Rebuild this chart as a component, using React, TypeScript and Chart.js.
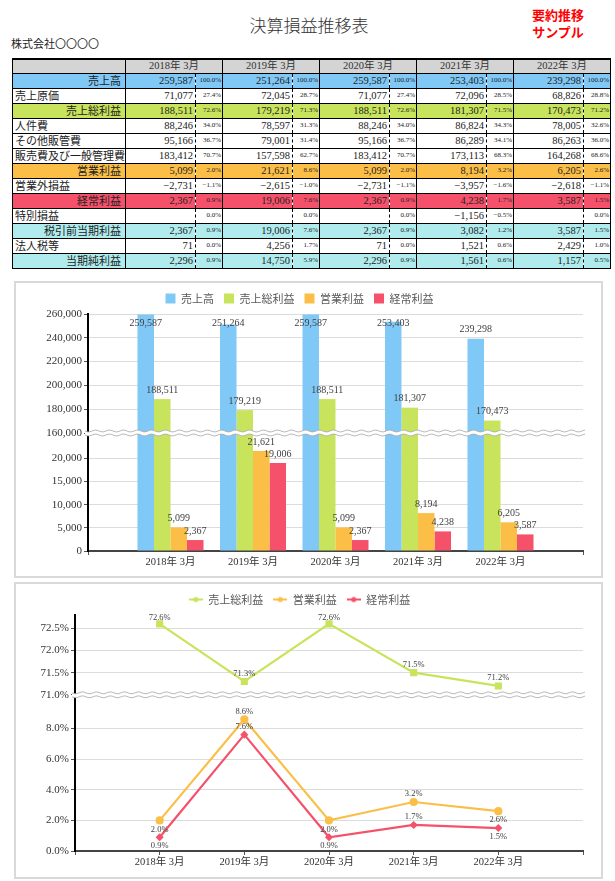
import React, { useEffect, useRef } from 'react';
import { Chart, registerables } from 'chart.js';

Chart.register(...registerables);

// ---------------- data ----------------
const years = ['2018年 3月', '2019年 3月', '2020年 3月', '2021年 3月', '2022年 3月'];

const sales = [259587, 251264, 259587, 253403, 239298];
const salesPct = [100.0, 100.0, 100.0, 100.0, 100.0];
const costOfSales = [71077, 72045, 71077, 72096, 68826];
const costOfSalesPct = [27.4, 28.7, 27.4, 28.5, 28.8];
const grossProfit = [188511, 179219, 188511, 181307, 170473];
const grossPct = [72.6, 71.3, 72.6, 71.5, 71.2];
const personnel = [88246, 78597, 88246, 86824, 78005];
const personnelPct = [34.0, 31.3, 34.0, 34.3, 32.6];
const otherSga = [95166, 79001, 95166, 86289, 86263];
const otherSgaPct = [36.7, 31.4, 36.7, 34.1, 36.0];
const sgaTotal = [183412, 157598, 183412, 173113, 164268];
const sgaTotalPct = [70.7, 62.7, 70.7, 68.3, 68.6];
const operatingProfit = [5099, 21621, 5099, 8194, 6205];
const operatingPct = [2.0, 8.6, 2.0, 3.2, 2.6];
const nonOperating = [-2731, -2615, -2731, -3957, -2618];
const nonOperatingPct = [-1.1, -1.0, -1.1, -1.6, -1.1];
const ordinaryProfit = [2367, 19006, 2367, 4238, 3587];
const ordinaryPct = [0.9, 7.6, 0.9, 1.7, 1.5];
const extraordinary: (number | null)[] = [null, null, null, -1156, null];
const extraordinaryPct = [0.0, 0.0, 0.0, -0.5, 0.0];
const pretaxProfit = [2367, 19006, 2367, 3082, 3587];
const pretaxPct = [0.9, 7.6, 0.9, 1.2, 1.5];
const incomeTax = [71, 4256, 71, 1521, 2429];
const incomeTaxPct = [0.0, 1.7, 0.0, 0.6, 1.0];
const netProfit = [2296, 14750, 2296, 1561, 1157];
const netPct = [0.9, 5.9, 0.9, 0.6, 0.5];

// axis ranges and tick values (broken axes)
const barHighMin = 160000;
const barHighMax = 260000;
const barHighTicks = [160000, 180000, 200000, 220000, 240000, 260000];
const barLowMax = 25500;
const barLowTicks = [0, 5000, 10000, 15000, 20000];

const lineHighMin = 71.0;
const lineHighMax = 72.8;
const lineHighTicks = [71.0, 71.5, 72.0, 72.5];
const lineLowMax = 10.2;
const lineLowTicks = [0, 2, 4, 6, 8];

// ---------------- styles ----------------
const NUM_FONT = '"Liberation Serif", "Noto Sans CJK JP", serif';
const JP_FONT = '"Noto Sans CJK JP", sans-serif';
const BLUE = '#80c8f6';
const GREEN = '#c8e45c';
const ORANGE = '#fbbf47';
const RED = '#f5516b';
const CYAN = '#b0ecee';

Chart.defaults.font.family = NUM_FONT;
Chart.defaults.color = '#333';

const padLabels = ['', ...years, ''];

function fmtNum(v: number | null) {
  if (v === null || v === undefined) return '';
  const s = Math.abs(v).toLocaleString('en-US');
  return v < 0 ? '−' + s : s;
}
function fmtPct(p: number) {
  const s = Math.abs(p).toFixed(1) + '%';
  return p < 0 ? '−' + s : s;
}

// ---------------- plugins ----------------
function wavePath(ctx: CanvasRenderingContext2D, x0: number, x1: number, y: number, forward: boolean) {
  if (forward) {
    for (let x = x0; x <= x1; x += 1) {
      const yy = y + Math.sin(((x - x0) / 7) * Math.PI) * 0.9;
      if (x === x0) ctx.moveTo(x, yy);
      else ctx.lineTo(x, yy);
    }
  } else {
    for (let x = x1; x >= x0; x -= 1) {
      const yy = y + Math.sin(((x - x0) / 7) * Math.PI) * 0.9;
      ctx.lineTo(x, yy);
    }
  }
}

const breakPlugin = {
  id: 'axisBreak',
  afterDatasetsDraw(chart: any) {
    const hi = chart.scales.yHigh;
    if (!hi) return;
    const ctx = chart.ctx as CanvasRenderingContext2D;
    const y = hi.bottom;
    const x0 = Math.round(chart.chartArea.left - 3);
    const x1 = Math.round(chart.chartArea.right + 2);
    ctx.save();
    ctx.beginPath();
    wavePath(ctx, x0, x1, y - 2, true);
    wavePath(ctx, x0, x1, y + 2, false);
    ctx.closePath();
    ctx.fillStyle = '#ffffff';
    ctx.fill();
    ctx.strokeStyle = '#a8a8a8';
    ctx.lineWidth = 0.8;
    ctx.beginPath();
    wavePath(ctx, x0, x1, y - 2, true);
    ctx.stroke();
    ctx.beginPath();
    wavePath(ctx, x0, x1, y + 2, true);
    ctx.stroke();
    ctx.restore();
  },
};

const barLabelPlugin = {
  id: 'barLabels',
  afterDatasetsDraw(chart: any) {
    const ctx = chart.ctx as CanvasRenderingContext2D;
    ctx.save();
    ctx.font = '10px ' + NUM_FONT;
    ctx.fillStyle = '#404040';
    ctx.textAlign = 'center';
    ctx.textBaseline = 'middle';
    chart.data.datasets.forEach((ds: any, di: number) => {
      if (!ds.labelValues) return;
      const meta = chart.getDatasetMeta(di);
      const scale = chart.scales[ds.yAxisID];
      meta.data.forEach((el: any, i: number) => {
        const y = Math.max(el.y - 9, scale.top + 9);
        ctx.fillText(fmtNum(ds.labelValues[i]), el.x, y);
      });
    });
    ctx.restore();
  },
};

const lineLabelPlugin = {
  id: 'lineLabels',
  afterDatasetsDraw(chart: any) {
    const ctx = chart.ctx as CanvasRenderingContext2D;
    ctx.save();
    ctx.font = '8.5px ' + NUM_FONT;
    ctx.fillStyle = '#404040';
    ctx.textAlign = 'center';
    ctx.textBaseline = 'middle';
    chart.data.datasets.forEach((ds: any, di: number) => {
      const meta = chart.getDatasetMeta(di);
      const scale = chart.scales[ds.yAxisID];
      meta.data.forEach((el: any, i: number) => {
        const pos = ds.labelPos ? ds.labelPos[i] : 'above';
        let y = pos === 'above' ? el.y - 8 : el.y + 9;
        if (pos === 'above') y = Math.max(y, scale.top + 3);
        ctx.fillText(fmtPct(ds.labelValues[i]), el.x, y);
      });
    });
    ctx.restore();
  },
};

function legendIcon(color: string) {
  const c = document.createElement('canvas');
  c.width = 14;
  c.height = 8;
  const g = c.getContext('2d')!;
  g.strokeStyle = color;
  g.lineWidth = 2;
  g.beginPath();
  g.moveTo(0, 4);
  g.lineTo(14, 4);
  g.stroke();
  g.fillStyle = color;
  g.beginPath();
  g.arc(7, 4, 2.6, 0, Math.PI * 2);
  g.fill();
  return c;
}

// ---------------- charts ----------------
function xScale(allTicks: boolean, height: number) {
  return {
    type: 'category',
    labels: padLabels,
    offset: false,
    grid: {
      offset: false,
      drawOnChartArea: false,
      tickLength: 4,
      lineWidth: 1,
      color: (c: any) =>
        allTicks || c.index === 0 || c.index === padLabels.length - 1 ? '#555' : 'rgba(0,0,0,0)',
    },
    border: { color: '#444', width: 2 },
    ticks: { font: { size: 10.5 }, color: '#333', padding: 1, maxRotation: 0, autoSkip: false },
    afterFit: (s: any) => {
      s.height = height;
    },
  };
}

function yScale(opts: {
  stack: string;
  weight: number;
  min: number;
  max: number;
  ticks: number[];
  width: number;
  fmt: (v: number) => string;
}) {
  return {
    type: 'linear',
    position: 'left',
    stack: opts.stack,
    stackWeight: opts.weight,
    stacked: false,
    min: opts.min,
    max: opts.max,
    grid: { color: '#dcdcdc', tickColor: '#555', tickLength: 4 },
    border: { color: '#000', width: 2 },
    ticks: {
      font: { size: 11 },
      color: '#333',
      padding: 2,
      autoSkip: false,
      callback: (v: any) => opts.fmt(Number(v)),
    },
    afterBuildTicks: (s: any) => {
      s.ticks = opts.ticks.map((value) => ({ value }));
    },
    afterFit: (s: any) => {
      s.width = opts.width;
    },
  };
}

function BarChartPanel() {
  const ref = useRef<HTMLCanvasElement>(null);
  useEffect(() => {
    const floatData = (vals: number[]) => years.map((x, i) => ({ x, y: [barHighMin, vals[i]] }));
    const lowData = (vals: number[]) => years.map((x, i) => ({ x, y: Math.min(vals[i], barLowMax) }));
    const yWidth = 72;
    const chart = new Chart(ref.current!, {
      type: 'bar',
      data: {
        datasets: [
          { label: '売上高', data: floatData(sales), yAxisID: 'yHigh', stack: 's', backgroundColor: BLUE, labelValues: sales } as any,
          { label: '売上総利益', data: floatData(grossProfit), yAxisID: 'yHigh', stack: 'g', backgroundColor: GREEN, labelValues: grossProfit } as any,
          { label: '営業利益', data: lowData(operatingProfit), yAxisID: 'yLow', stack: 'o', backgroundColor: ORANGE, labelValues: operatingProfit } as any,
          { label: '経常利益', data: lowData(ordinaryProfit), yAxisID: 'yLow', stack: 'r', backgroundColor: RED, labelValues: ordinaryProfit } as any,
          { label: '売上高', data: lowData(sales), yAxisID: 'yLow', stack: 's', backgroundColor: BLUE, hideInLegend: true } as any,
          { label: '売上総利益', data: lowData(grossProfit), yAxisID: 'yLow', stack: 'g', backgroundColor: GREEN, hideInLegend: true } as any,
        ],
      },
      options: {
        animation: false,
        responsive: false,
        maintainAspectRatio: false,
        events: [],
        layout: { padding: { top: 0, right: 18, bottom: 0, left: 0 } },
        datasets: { bar: { categoryPercentage: 0.8, barPercentage: 1.0, borderWidth: 0 } },
        plugins: {
          tooltip: { enabled: false },
          legend: {
            position: 'top',
            labels: {
              font: { size: 11, family: JP_FONT },
              color: '#595959',
              boxWidth: 10,
              boxHeight: 10,
              padding: 10,
              filter: (item: any, data: any) => !data.datasets[item.datasetIndex].hideInLegend,
            },
          },
        },
        scales: {
          x: xScale(false, 25) as any,
          yLow: yScale({ stack: 'bars', weight: 118, min: 0, max: barLowMax, ticks: barLowTicks, width: yWidth, fmt: fmtNum }) as any,
          yHigh: yScale({ stack: 'bars', weight: 119, min: barHighMin, max: barHighMax, ticks: barHighTicks, width: yWidth, fmt: fmtNum }) as any,
        },
      } as any,
      plugins: [breakPlugin, barLabelPlugin],
    });
    return () => chart.destroy();
  }, []);
  return (
    <div style={{ position: 'absolute', left: 14, top: 281, width: 589, height: 297, boxSizing: 'border-box', border: '2px solid #d9d9d9', background: '#fff' }}>
      <canvas ref={ref} width={585} height={293} style={{ display: 'block', width: 585, height: 293 }} />
    </div>
  );
}

function LineChartPanel() {
  const ref = useRef<HTMLCanvasElement>(null);
  useEffect(() => {
    const pts = (vals: number[]) => years.map((x, i) => ({ x, y: vals[i] }));
    const yWidth = 59;
    const pctFmt = (v: number) => v.toFixed(1) + '%';
    const chart = new Chart(ref.current!, {
      type: 'line',
      data: {
        datasets: [
          {
            label: '売上総利益', data: pts(grossPct), yAxisID: 'yHigh', borderColor: GREEN, backgroundColor: GREEN,
            pointBackgroundColor: GREEN, pointBorderColor: GREEN, pointStyle: 'rect', pointRadius: 3.5, borderWidth: 2.2,
            labelValues: grossPct, labelPos: ['above', 'above', 'above', 'above', 'above'],
          } as any,
          {
            label: '営業利益', data: pts(operatingPct), yAxisID: 'yLow', borderColor: ORANGE, backgroundColor: ORANGE,
            pointBackgroundColor: ORANGE, pointBorderColor: ORANGE, pointStyle: 'circle', pointRadius: 3, borderWidth: 2.2,
            labelValues: operatingPct, labelPos: ['below', 'above', 'below', 'above', 'below'],
          } as any,
          {
            label: '経常利益', data: pts(ordinaryPct), yAxisID: 'yLow', borderColor: RED, backgroundColor: RED,
            pointBackgroundColor: RED, pointBorderColor: RED, pointStyle: 'rectRot', pointRadius: 2.5, borderWidth: 2.2,
            labelValues: ordinaryPct, labelPos: ['below', 'above', 'below', 'above', 'below'],
          } as any,
        ],
      },
      options: {
        animation: false,
        responsive: false,
        maintainAspectRatio: false,
        events: [],
        layout: { padding: { top: 0, right: 18, bottom: 0, left: 0 } },
        elements: { line: { tension: 0 } },
        plugins: {
          tooltip: { enabled: false },
          legend: {
            position: 'top',
            labels: {
              font: { size: 11, family: JP_FONT },
              color: '#595959',
              usePointStyle: true,
              pointStyleWidth: 14,
              boxHeight: 8,
              padding: 10,
              generateLabels: (ch: any) =>
                ch.data.datasets.map((ds: any, i: number) => ({
                  text: ds.label,
                  fillStyle: ds.borderColor,
                  strokeStyle: ds.borderColor,
                  lineWidth: 0,
                  pointStyle: legendIcon(ds.borderColor),
                  datasetIndex: i,
                  hidden: false,
                  fontColor: '#595959',
                })),
            },
          },
        },
        scales: {
          x: xScale(true, 26) as any,
          yLow: yScale({ stack: 'lines', weight: 156.5, min: 0, max: lineLowMax, ticks: lineLowTicks, width: yWidth, fmt: pctFmt }) as any,
          yHigh: yScale({ stack: 'lines', weight: 80, min: lineHighMin, max: lineHighMax, ticks: lineHighTicks, width: yWidth, fmt: pctFmt }) as any,
        },
      } as any,
      plugins: [breakPlugin, lineLabelPlugin],
    });
    return () => chart.destroy();
  }, []);
  return (
    <div style={{ position: 'absolute', left: 14, top: 582, width: 589, height: 297, boxSizing: 'border-box', border: '2px solid #d9d9d9', background: '#fff' }}>
      <canvas ref={ref} width={585} height={293} style={{ display: 'block', width: 585, height: 293 }} />
    </div>
  );
}

// ---------------- table ----------------
type Row = { name: string; values: (number | null)[]; pcts: number[]; bg?: string; right?: boolean };

const rows: Row[] = [
  { name: '売上高', values: sales, pcts: salesPct, bg: BLUE, right: true },
  { name: '売上原価', values: costOfSales, pcts: costOfSalesPct },
  { name: '売上総利益', values: grossProfit, pcts: grossPct, bg: GREEN, right: true },
  { name: '人件費', values: personnel, pcts: personnelPct },
  { name: 'その他販管費', values: otherSga, pcts: otherSgaPct },
  { name: '販売費及び一般管理費', values: sgaTotal, pcts: sgaTotalPct },
  { name: '営業利益', values: operatingProfit, pcts: operatingPct, bg: ORANGE, right: true },
  { name: '営業外損益', values: nonOperating, pcts: nonOperatingPct },
  { name: '経常利益', values: ordinaryProfit, pcts: ordinaryPct, bg: RED, right: true },
  { name: '特別損益', values: extraordinary, pcts: extraordinaryPct },
  { name: '税引前当期利益', values: pretaxProfit, pcts: pretaxPct, bg: CYAN, right: true },
  { name: '法人税等', values: incomeTax, pcts: incomeTaxPct },
  { name: '当期純利益', values: netProfit, pcts: netPct, bg: CYAN, right: true },
];

const cellBase: React.CSSProperties = {
  border: '1px solid #000',
  padding: 0,
  whiteSpace: 'nowrap',
  overflow: 'hidden',
  verticalAlign: 'middle',
  color: '#222',
};

function PLTable() {
  return (
    <table style={{ position: 'absolute', left: 12, top: 58, width: 598, borderCollapse: 'collapse', tableLayout: 'fixed' }}>
      <colgroup>
        <col style={{ width: 113 }} />
        {years.flatMap((y) => [<col key={y + 'v'} style={{ width: 70 }} />, <col key={y + 'p'} style={{ width: 27 }} />])}
      </colgroup>
      <tbody>
        <tr style={{ height: 14 }}>
          <td style={{ ...cellBase, background: '#d4d4d4', borderTop: '2px solid #000' }} />
          {years.map((y) => (
            <td key={y} colSpan={2} style={{ ...cellBase, background: '#d4d4d4', borderTop: '2px solid #000', textAlign: 'center', font: '10.5px ' + NUM_FONT, lineHeight: '12px', color: '#333' }}>
              {y}
            </td>
          ))}
        </tr>
        {rows.map((r) => (
          <tr key={r.name} style={{ height: 15, background: r.bg || '#fff' }}>
            <td style={{ ...cellBase, font: '11px ' + JP_FONT, lineHeight: '13px', textAlign: r.right ? 'right' : 'left', paddingLeft: r.right ? 0 : 2, paddingRight: r.right ? 4 : 0 }}>
              {r.name}
            </td>
            {years.flatMap((y, i) => [
              <td key={y + 'v'} style={{ ...cellBase, borderRight: '1px dashed #000', textAlign: 'right', paddingRight: 2, font: '10.5px ' + NUM_FONT, lineHeight: '13px' }}>
                {fmtNum(r.values[i])}
              </td>,
              <td key={y + 'p'} style={{ ...cellBase, borderLeft: '1px dashed #000', textAlign: 'right', paddingRight: 1, font: '7px ' + NUM_FONT, lineHeight: '13px' }}>
                {fmtPct(r.pcts[i])}
              </td>,
            ])}
          </tr>
        ))}
      </tbody>
    </table>
  );
}

export default function App() {
  return (
    <div style={{ position: 'absolute', left: 0, top: 0, width: 615, height: 881, background: '#fff', overflow: 'hidden' }}>
      <div style={{ position: 'absolute', left: 200, top: 13, width: 218, textAlign: 'center', font: '300 17px ' + JP_FONT, lineHeight: '24px', color: '#333' }}>
        決算損益推移表
      </div>
      <div style={{ position: 'absolute', left: 11, top: 36, font: '11px ' + JP_FONT, lineHeight: '15px', color: '#222' }}>
        株式会社〇〇〇〇
      </div>
      <div style={{ position: 'absolute', left: 518, top: 6, width: 80, textAlign: 'center', font: 'bold 13px ' + JP_FONT, lineHeight: '17px', color: '#ff0000' }}>
        <div>要約推移</div>
        <div>サンプル</div>
      </div>
      <PLTable />
      <BarChartPanel />
      <LineChartPanel />
    </div>
  );
}
